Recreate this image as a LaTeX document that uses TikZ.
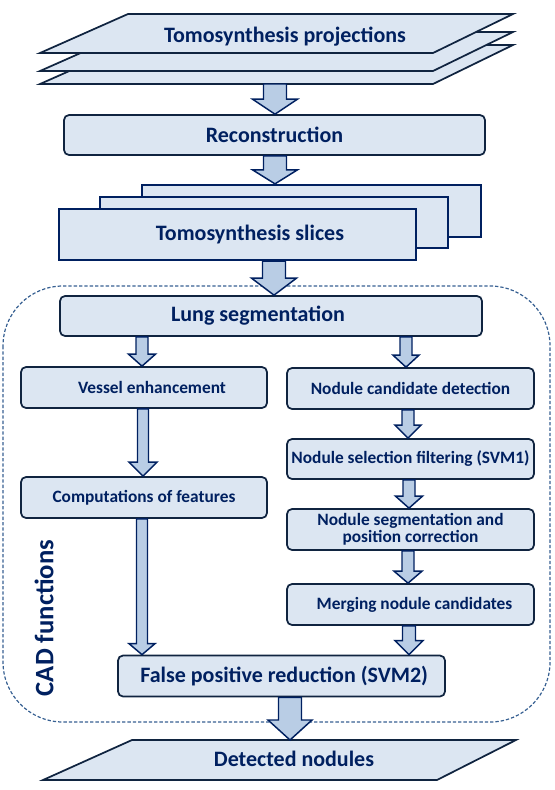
\documentclass[tikz,border=0pt]{standalone}
\usepackage{fontspec}
\setmainfont{Carlito}
\usetikzlibrary{calc}

\definecolor{navytxt}{RGB}{0,32,96}
\definecolor{bordo}{RGB}{16,36,64}
\definecolor{riemp}{RGB}{220,230,242}
\definecolor{frecc}{RGB}{185,205,229}
\definecolor{tratteg}{RGB}{55,96,146}

% freccia a blocco: da, a, x (px), mezza asta, mezza punta, lunghezza punta
\newcommand{\frecciona}[6]{%
  \filldraw[freccia] let \p1=(#1), \p2=(#2), \p3=(#3,0) in
    ({\x3-#4*0.75pt},\y1) -- ({\x3-#4*0.75pt},{\y2+#6*0.75pt})
    -- ({\x3-#5*0.75pt},{\y2+#6*0.75pt}) -- (\x3,\y2)
    -- ({\x3+#5*0.75pt},{\y2+#6*0.75pt}) -- ({\x3+#4*0.75pt},{\y2+#6*0.75pt})
    -- ({\x3+#4*0.75pt},\y1) -- cycle;
}

\begin{document}
\begin{tikzpicture}[
  x=0.75pt, y=-0.75pt,
  font=\bfseries, text=navytxt,
  testog/.style={font=\fontsize{16.5}{19}\bfseries, text=navytxt, inner sep=0pt},
  blocco/.style={draw=bordo, fill=riemp, line width=1.3pt, rounded corners=3.75pt,
                 inner sep=0pt, font=\fontsize{16.5}{19}\bfseries},
  bloccop/.style={blocco, font=\fontsize{13}{13}\bfseries},
  fetta/.style={draw=navytxt, fill=riemp, line width=1.75pt, inner sep=0pt},
  foglio/.style={draw=bordo, fill=riemp, line width=1.3pt, line join=miter},
  freccia/.style={draw=navytxt, fill=frecc, line width=1.1pt, line join=miter},
  contorno/.style={draw=tratteg, line width=0.9pt, dash pattern=on 2.5pt off 1.5pt,
                   rounded corners=45pt}
]
\useasboundingbox (0,0) rectangle (555,790);

%--------------------------------------------------------------
% Riquadro tratteggiato delle funzioni CAD
%--------------------------------------------------------------
\draw[contorno] (3,286) rectangle (550,722);
\node[rotate=90, font=\fontsize{20}{24}\bfseries, inner sep=0pt] (cad) at (44,618) {CAD functions};

%--------------------------------------------------------------
% Proiezioni (fogli sovrapposti) e ricostruzione
%--------------------------------------------------------------
\foreach \dy in {31,18,0}
  \filldraw[foglio] (128,{14+\dy}) -- (513,{14+\dy}) -- (433,{53+\dy}) -- (40,{53+\dy}) -- cycle;
\node[testog] (proiez) at (285,37) {Tomosynthesis projections};
\coordinate (proiez-base) at (275,84);

\node[blocco, minimum width=315.75pt, minimum height=30pt] (recon) at (274.5,135) {Reconstruction};

%--------------------------------------------------------------
% Fette
%--------------------------------------------------------------
\node[fetta, minimum width=254.25pt, minimum height=39pt] (fettadietro) at (311.5,211) {};
\node[fetta, minimum width=261pt, minimum height=38.25pt] (fettamezzo) at (274,222.5) {};
\node[fetta, minimum width=267.75pt, minimum height=38.25pt, font=\fontsize{16.5}{19}\bfseries]
  (fetta) at (237.5,234.5) {\hspace*{18.75pt}Tomosynthesis slices};

%--------------------------------------------------------------
% Blocchi CAD
%--------------------------------------------------------------
\node[blocco, minimum width=316.5pt, minimum height=30pt] (lung) at (271,316) {Lung segmentation\hspace*{19.5pt}};

\node[bloccop, minimum width=184.5pt, minimum height=30.75pt] (vessel) at (144,387.5) {\hspace*{12pt}Vessel enhancement};
\node[bloccop, minimum width=184.5pt, minimum height=30.75pt] (calcolo) at (144,497.5) {Computations of features};

\node[bloccop, minimum width=185.25pt, minimum height=30.75pt] (ncd) at (410.5,388.5) {Nodule candidate detection};
\node[bloccop, minimum width=185.25pt, minimum height=30pt] (svm1) at (410.5,459) {Nodule selection filtering (SVM1)};
\node[bloccop, minimum width=185.25pt, minimum height=30.75pt, align=center] (segm) at (410.5,529.5)
  {Nodule segmentation and\\position correction};
\node[bloccop, minimum width=185.25pt, minimum height=30.75pt] (merge) at (410.5,604.5) {\hspace*{6pt}Merging nodule candidates};

\node[blocco, minimum width=245.25pt, minimum height=30.75pt] (fpr) at (281.5,676) {\hspace*{4pt}False positive reduction (SVM2)};

%--------------------------------------------------------------
% Noduli rilevati
%--------------------------------------------------------------
\filldraw[foglio] (132,740) -- (516,740) -- (437,780) -- (43,780) -- cycle;
\node[testog] (rilevati) at (294,759) {Detected nodules};
\coordinate (rilevati-cima) at (290,740);

%--------------------------------------------------------------
% Frecce
%--------------------------------------------------------------
\frecciona{proiez-base}{recon.north}{275}{11.5}{22.5}{15}
\frecciona{recon.south}{fettadietro.north}{275}{11.5}{22.5}{14}
\frecciona{fetta.south}{lung.north}{274}{11.5}{22.5}{17}

\frecciona{lung.south}{vessel.north}{142}{6}{13.5}{12}
\frecciona{vessel.south}{calcolo.north}{143}{5.5}{14}{14}
\frecciona{calcolo.south}{fpr.north}{142}{5.5}{13}{11}

\frecciona{lung.south}{ncd.north}{406}{6}{13}{12}
\frecciona{ncd.south}{svm1.north}{408}{6}{13}{13}
\frecciona{svm1.south}{segm.north}{409}{6}{13.5}{12}
\frecciona{segm.south}{merge.north}{408}{6}{14}{12}
\frecciona{merge.south}{fpr.north}{409}{6.5}{14}{14}

\frecciona{fpr.south}{rilevati-cima}{290}{11.5}{22}{20}

\end{tikzpicture}
\end{document}
